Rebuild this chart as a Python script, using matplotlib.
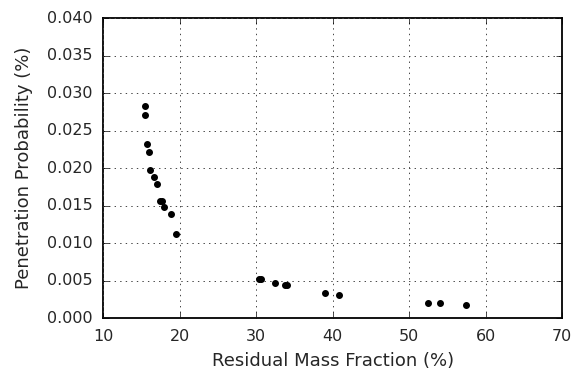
import numpy as np
import matplotlib
matplotlib.use("Agg")
import matplotlib.pyplot as plt

# residual mass fraction (%) vs penetration probability (%)
residual_mass = [15.42, 15.42, 15.69, 16.0, 16.08, 16.6, 17.05, 17.48, 17.7,
                 17.96, 18.82, 19.53,
                 30.33, 30.64, 32.42, 33.73, 34.04, 39.05, 40.78,
                 52.42, 53.99, 57.44]
penetration = [0.0283, 0.0271, 0.0232, 0.0222, 0.0198, 0.0188, 0.0179, 0.0157, 0.0156,
               0.0148, 0.0139, 0.0112,
               0.0053, 0.0052, 0.0047, 0.0045, 0.0044, 0.0034, 0.0031,
               0.0020, 0.0020, 0.0018]

plt.style.use("classic")
plt.rcParams["font.family"] = "DejaVu Sans"
text_color = "#262626"

fig = plt.figure(figsize=(5.79, 3.76), dpi=100, facecolor="white")
ax = fig.add_axes([0.178, 0.153, 0.793, 0.799])

ax.scatter(residual_mass, penetration, s=16, color="black", edgecolor="black", zorder=3)

ax.set_xlim(10, 70)
ax.set_ylim(0, 0.04)
ax.set_xticks(np.arange(10, 71, 10))
ax.set_yticks(np.arange(0, 0.0401, 0.005))
ax.yaxis.set_major_formatter(matplotlib.ticker.FormatStrFormatter("%.3f"))
ax.grid(True, linestyle=":", color="#444444", linewidth=0.7)
ax.tick_params(labelsize=11.5, labelcolor=text_color, pad=7.5)
for s in ax.spines.values():
    s.set_linewidth(1.3)

ax.set_xlabel("Residual Mass Fraction (%)", fontsize=13, color=text_color, labelpad=6)
ax.set_ylabel("Penetration Probability (%)", fontsize=13, color=text_color, labelpad=10)

fig.savefig("out.png", dpi=100, facecolor="white")
